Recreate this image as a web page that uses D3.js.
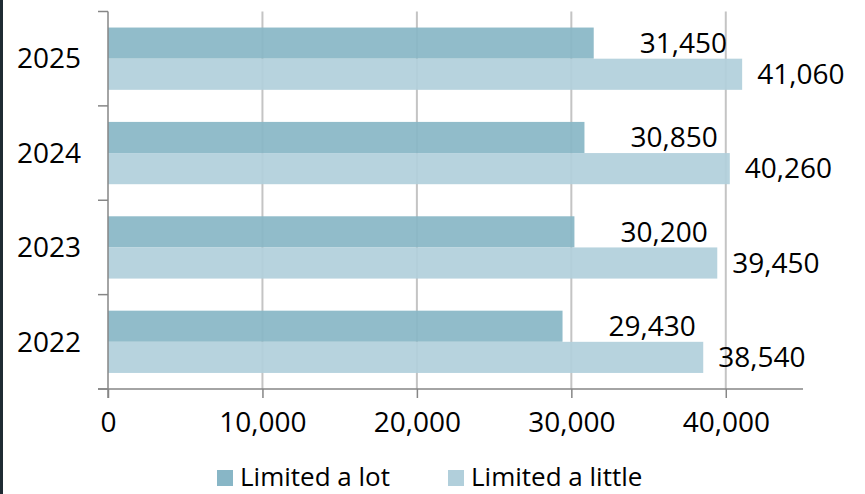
<!DOCTYPE html>
<html>
  <head>
    <meta charset="utf-8">
    <script src="https://cdn.jsdelivr.net/npm/d3@7"></script>
    <style>
      body { margin: 0; background: #fff; }
      .chart text { font-family: "Open Sans", sans-serif; fill: #000; }
    </style>
  </head>
  <body>
    <svg class="chart"></svg>
    <script>

    var years = ["2025", "2024", "2023", "2022"];
    var series = ["Limited a lot", "Limited a little"];
    var limitedLot = [31450, 30850, 30200, 29430];
    var limitedLittle = [41060, 40260, 39450, 38540];
    var xTicks = [0, 10000, 20000, 30000, 40000];

    var width = 865, height = 494;
    var colors = ["#88b6c6", "#b1cfdb"];
    var labelOffset = [46, 15];
    var fmt = d3.format(",");

    var chart = d3.select(".chart")
      .attr("width", width)
      .attr("height", height);

    // dark edge on the left
    chart.append("rect")
      .attr("x", 0).attr("y", 0)
      .attr("width", 3).attr("height", height)
      .attr("fill", "#1f2b33");

    var x = d3.scaleLinear()
      .domain([0, 45000])
      .range([108, 803]);

    var y = d3.scaleBand()
      .domain(years)
      .range([11.5, 389])
      .paddingInner(0.34)
      .paddingOuter(0.17);

    var yOuter = d3.scaleBand()
      .domain(years)
      .range([11.5, 389]);

    var ySub = d3.scaleBand()
      .domain(series)
      .range([0, y.bandwidth()]);

    // gridlines
    chart.append("g")
      .selectAll("line")
      .data(xTicks.slice(1))
      .enter().append("line")
      .attr("x1", function(d) { return x(d); })
      .attr("x2", function(d) { return x(d); })
      .attr("y1", 11.5)
      .attr("y2", 389)
      .attr("stroke", "#c4c4c4")
      .attr("stroke-width", 2);

    var rows = years.map(function(yr, i) {
      return [
        { year: yr, s: series[0], v: limitedLot[i], k: 0 },
        { year: yr, s: series[1], v: limitedLittle[i], k: 1 }
      ];
    });
    var flat = [].concat.apply([], rows);

    chart.append("g")
      .selectAll("rect")
      .data(flat)
      .enter().append("rect")
      .attr("x", x(0))
      .attr("y", function(d) { return y(d.year) + ySub(d.s); })
      .attr("width", function(d) { return x(d.v) - x(0); })
      .attr("height", ySub.bandwidth())
      .attr("fill", function(d) { return colors[d.k]; })
      .attr("fill-opacity", 0.92);

    chart.append("g")
      .selectAll("text")
      .data(flat)
      .enter().append("text")
      .attr("x", function(d) { return x(d.v) + labelOffset[d.k]; })
      .attr("y", function(d) { return y(d.year) + ySub(d.s) + ySub.bandwidth() / 2; })
      .attr("dy", ".35em")
      .style("font-size", "28px")
      .text(function(d) { return fmt(d.v); });

    // x axis
    var xAxis = d3.axisBottom(x)
      .tickValues(xTicks)
      .tickFormat(fmt)
      .tickSizeInner(9)
      .tickSizeOuter(0)
      .tickPadding(14);

    var gx = chart.append("g")
      .attr("transform", "translate(0,389)")
      .call(xAxis);
    gx.select(".domain").attr("stroke", "#868686").attr("stroke-width", 1.5)
      .attr("d", "M98,0H803");
    gx.selectAll(".tick line").attr("stroke", "#868686").attr("stroke-width", 1.5);
    gx.selectAll(".tick text").style("font-size", "28px");

    // y axis
    var gy = chart.append("g")
      .attr("transform", "translate(108,0)");
    gy.append("line")
      .attr("x1", 0).attr("x2", 0)
      .attr("y1", 11.5).attr("y2", 398)
      .attr("stroke", "#868686").attr("stroke-width", 1.5);
    var yTickPos = years.map(function(d) { return yOuter(d); }).concat([389]);
    gy.selectAll(".ytick")
      .data(yTickPos)
      .enter().append("line")
      .attr("x1", -10).attr("x2", 0)
      .attr("y1", function(d) { return d; })
      .attr("y2", function(d) { return d; })
      .attr("stroke", "#868686").attr("stroke-width", 1.5);
    gy.selectAll(".ylab")
      .data(years)
      .enter().append("text")
      .attr("x", -27)
      .attr("y", function(d) { return yOuter(d) + yOuter.bandwidth() / 2; })
      .attr("dy", ".35em")
      .attr("text-anchor", "end")
      .style("font-size", "28px")
      .text(function(d) { return d; });

    // legend
    var legendX = [217, 448];
    var legend = chart.append("g")
      .selectAll("g")
      .data(series)
      .enter().append("g")
      .attr("transform", function(d, i) { return "translate(" + legendX[i] + ",470)"; });
    legend.append("rect")
      .attr("width", 16).attr("height", 16)
      .attr("fill", function(d, i) { return colors[i]; });
    legend.append("text")
      .attr("x", 23)
      .attr("y", 16)
      .style("font-size", "26px")
      .text(function(d) { return d; });

    </script>
  </body>
</html>
